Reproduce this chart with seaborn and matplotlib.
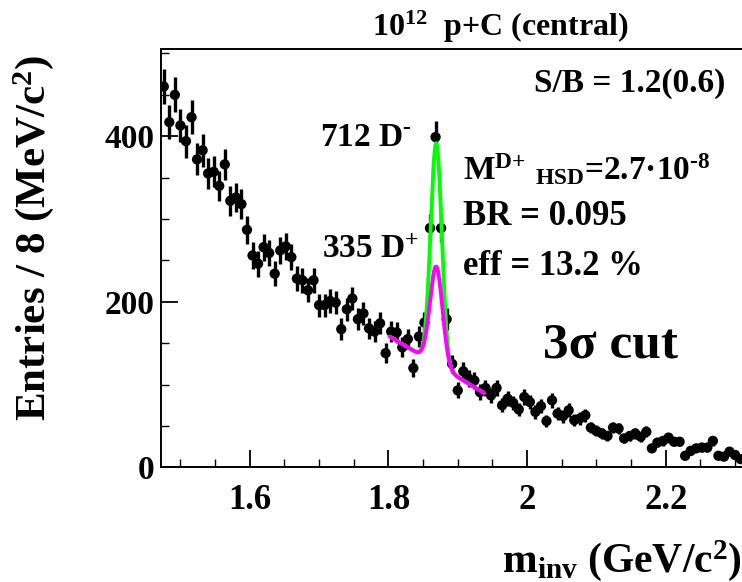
import numpy as np
import pandas as pd
import matplotlib
matplotlib.use("Agg")
import matplotlib.pyplot as plt
import seaborn as sns

# histogram: 8 MeV bins starting at 1.472 GeV/c2
bin_lo = 1.472
bin_w = 0.008
counts = [460, 417, 450, 413, 394, 423, 372, 383, 355, 357,
          340, 366, 322, 326, 318, 287, 256, 246, 266, 259,
          234, 262, 267, 254, 228, 226, 214, 226, 196, 196,
          201, 199, 167, 191, 204, 179, 186, 168, 164, 174,
          138, 164, 163, 145, 155, 120, 158, 175, 289, 399,
          289, 179, 125, 93, 116, 107, 105, 91, 96, 87,
          96, 75, 83, 78, 70, 85, 79, 67, 74, 56,
          81, 65, 62, 69, 57, 59, 63, 48, 44, 41,
          38, 48, 47, 35, 38, 41, 37, 43, 23, 30,
          32, 36, 31, 31, 14, 20, 23, 24, 24, 32,
          14, 13, 19, 15, 10]

# fit: linear background + gaussian peak
fit_range = (1.802, 1.938)
bg_start, bg_end = 158.0, 90.0
peak_mass = 1.869
amp_total, sigma_total = 267.0, 0.0080   # green: D- and D+
amp_dplus, sigma_dplus = 118.0, 0.0090   # magenta: D+ only

x_ticks = [1.6, 1.8, 2.0, 2.2]
x_ticklabels = ["1.6", "1.8", "2", "2.2"]
y_ticks = [0, 200, 400]

sns.set_theme(style="ticks")
plt.rcParams["font.family"] = ["Liberation Serif", "DejaVu Serif"]
plt.rcParams["font.weight"] = "bold"
plt.rcParams["mathtext.fontset"] = "custom"
plt.rcParams["mathtext.rm"] = "Liberation Serif:bold"
plt.rcParams["mathtext.it"] = "Liberation Serif:bold"
plt.rcParams["mathtext.bf"] = "Liberation Serif:bold"

centers = bin_lo + bin_w * (np.arange(len(counts)) + 0.5)
df = pd.DataFrame({"m": centers, "n": counts})
df["err"] = np.sqrt(df["n"])

xf = np.linspace(fit_range[0], fit_range[1], 400)
bg = bg_start + (bg_end - bg_start) * (xf - fit_range[0]) / (fit_range[1] - fit_range[0])
fit_total = bg + amp_total * np.exp(-0.5 * ((xf - peak_mass) / sigma_total) ** 2)
fit_dplus = bg + amp_dplus * np.exp(-0.5 * ((xf - peak_mass) / sigma_dplus) ** 2)
fits = pd.DataFrame({"m": xf, "total": fit_total, "dplus": fit_dplus})

W, H = 742, 582
fig = plt.figure(figsize=(W / 100, H / 100), dpi=100)
ax_l, ax_b, ax_t = 161, 467.4, 49.3
ax = fig.add_axes([ax_l / W, 1 - ax_b / H, (W - ax_l) / W, (ax_b - ax_t) / H])

ax.errorbar(df["m"], df["n"], yerr=df["err"], fmt="none", ecolor="black",
            elinewidth=2.4, capsize=0, zorder=2)
sns.scatterplot(data=df, x="m", y="n", ax=ax, color="black", s=55,
                edgecolor="none", zorder=3, legend=False)
sns.lineplot(data=fits, x="m", y="total", ax=ax, color="#00ff00", lw=2.8, zorder=4)
sns.lineplot(data=fits, x="m", y="dplus", ax=ax, color="#ff00ff", lw=2.8, zorder=5)

ax.set_xlim(1.472, 2.31)
ax.set_ylim(0, 505)
ax.set_xticks(x_ticks)
ax.set_xticklabels(x_ticklabels)
ax.set_xticks(np.arange(1.50, 2.31, 0.05), minor=True)
ax.set_yticks(y_ticks)
ax.set_yticks(np.arange(0, 501, 50), minor=True)
ax.tick_params(axis="both", which="both", direction="in", color="black",
               labelcolor="black")
ax.tick_params(axis="x", which="major", length=12, width=1.3, pad=12, labelsize=25)
ax.tick_params(axis="x", which="minor", length=6, width=1.0)
ax.tick_params(axis="y", which="major", length=12, width=1.3, pad=5, labelsize=24)
ax.tick_params(axis="y", which="minor", length=6, width=1.0)
for lab in ax.get_xticklabels() + ax.get_yticklabels():
    lab.set_fontweight("bold")
ax.set_xlabel("")
ax.set_ylabel("")
ax.spines["right"].set_visible(False)
for s in ["left", "bottom", "top"]:
    ax.spines[s].set_linewidth(1.4)
    ax.spines[s].set_color("black")


def ftext(px, py, s, size, ha="left", va="baseline", **kw):
    fig.text(px / W, 1 - py / H, s, fontsize=size, ha=ha, va=va,
             fontweight="bold", color="black", **kw)


ftext(372, 36, r"10$^{\mathrm{12}}$  p+C (central)", 23)
ftext(725, 92, "S/B = 1.2(0.6)", 24, ha="right")
ftext(320, 146, "712 D$^{\\text{-}}$", 24)
ftext(322, 258, r"335 D$^{\mathrm{+}}$", 24)
ftext(463, 180, "M$^{\\mathrm{D{+}}}\\ {}_{\\mathrm{HSD}}$=2.7·10$^{\\text{-}\\mathrm{8}}$", 24)
ftext(463, 225, "BR = 0.095", 25)
ftext(463, 275, "eff = 13.2 %", 25)
ftext(543, 357, "3σ cut", 37)
ftext(742, 572, r"m$_{\mathrm{inv}}$ (GeV/c$^{\mathrm{2}}$)", 30, ha="right")
ftext(34, 238, r"Entries / 8 (MeV/c$^{\mathrm{2}}$)", 31, ha="center", va="center",
      rotation=90)

fig.savefig("out.png", dpi=100)
